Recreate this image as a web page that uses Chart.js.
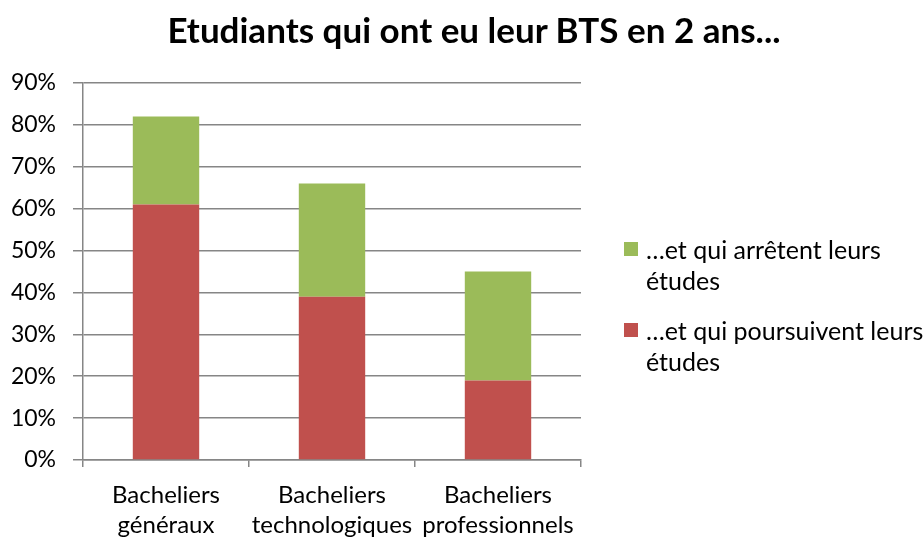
<!DOCTYPE html>
<html>
<head>
<meta charset="utf-8">
<script src="https://cdn.jsdelivr.net/npm/chart.js@4"></script>
<style>
  body { margin: 0; background: #fff; }
  #wrap { position: relative; width: 923px; height: 540px; font-family: Lato, "Open Sans", sans-serif; color: #000; }
  #title { position: absolute; left: 0; width: 948px; top: 8px; text-align: center; font-size: 35px; font-weight: bold; }
  #legend { position: absolute; left: 624px; top: 234px; width: 300px; font-size: 25px; line-height: 31px; white-space: nowrap; }
  .item { position: relative; padding-left: 22px; margin-bottom: 19px; }
  .sw { position: absolute; left: 0; top: 8px; width: 14px; height: 14px; }
  canvas { position: absolute; left: 0; top: 0; }
</style>
</head>
<body>
<div id="wrap">
  <canvas id="chart" width="923" height="540"></canvas>
  <div id="title">Etudiants qui ont eu leur BTS en 2 ans...</div>
  <div id="legend"></div>
</div>
<script>
const categories = [["Bacheliers", "généraux"], ["Bacheliers", "technologiques"], ["Bacheliers", "professionnels"]];
const seriesNames = [["…et qui poursuivent leurs", "études"], ["…et qui arrêtent leurs", "études"]];
const poursuivent = [0.61, 0.39, 0.19];
const arretent = [0.21, 0.27, 0.26];
const yTicks = [0, 0.1, 0.2, 0.3, 0.4, 0.5, 0.6, 0.7, 0.8, 0.9];

const red = "#C0504D";
const green = "#9BBB59";
const gridColor = "#868686";
const fam = "Lato, 'Open Sans', sans-serif";

const datasets = [
    { label: seriesNames[0].join(" "), data: poursuivent, backgroundColor: red },
    { label: seriesNames[1].join(" "), data: arretent, backgroundColor: green }
];

// legend drawn as html so the labels wrap like the original
const legend = document.getElementById("legend");
[1, 0].forEach(i => {
    const div = document.createElement("div");
    div.className = "item";
    div.innerHTML = '<span class="sw" style="background:' + datasets[i].backgroundColor + '"></span>' + seriesNames[i].join("<br>");
    legend.appendChild(div);
});

new Chart(document.getElementById("chart"), {
    type: "bar",
    data: { labels: categories, datasets: datasets },
    options: {
        responsive: false,
        animation: false,
        layout: { padding: { top: 83, right: 342, bottom: 0, left: 0 } },
        plugins: { legend: { display: false }, tooltip: { enabled: false } },
        datasets: { bar: { barPercentage: 0.4, categoryPercentage: 1 } },
        scales: {
            x: {
                stacked: true,
                afterFit: s => { s.height = 80; },
                border: { color: gridColor, width: 1.5 },
                grid: { drawOnChartArea: false, drawTicks: true, tickLength: 7, color: gridColor, lineWidth: 1.5, offset: true },
                ticks: { color: "#000", font: { family: fam, size: 24, lineHeight: 1.25 }, padding: 13, maxRotation: 0 }
            },
            y: {
                stacked: true,
                min: 0,
                max: 0.9,
                afterBuildTicks: s => { s.ticks = yTicks.map(v => ({ value: v })); },
                afterFit: s => { s.width = 83; },
                border: { color: gridColor, width: 1.5 },
                grid: { color: gridColor, lineWidth: 1.5, tickLength: 10 },
                ticks: { color: "#000", font: { family: fam, size: 23 }, padding: 17, callback: v => Math.round(v * 100) + "%" }
            }
        }
    }
});
</script>
</body>
</html>
